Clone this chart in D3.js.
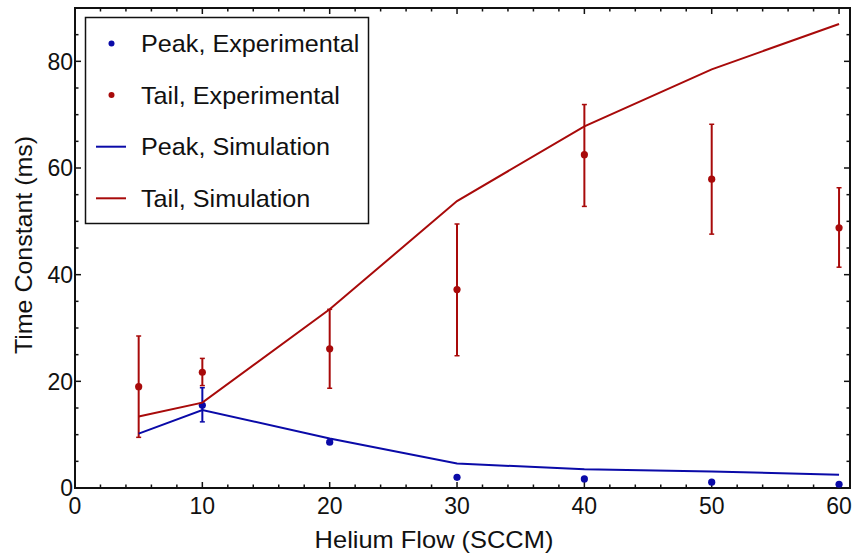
<!DOCTYPE html>
<html>
<head>
<meta charset="utf-8">
<script src="https://cdn.jsdelivr.net/npm/d3@7"></script>
<style>
  body { margin: 0; background: #fff; }
  svg text { font-family: "Liberation Sans", Arial, sans-serif; fill: #111; }
</style>
</head>
<body>
<div id="chart"></div>
<script>
// data
var flow = [5, 10, 20, 30, 40, 50, 60];

var peakExp = [null, 15.5, 8.6, 2.0, 1.7, 1.1, 0.7];
var peakExpLo = [null, 12.4, null, null, null, null, null];
var peakExpHi = [null, 18.8, null, null, null, null, null];

var tailExp = [19.0, 21.7, 26.1, 37.2, 62.5, 57.9, 48.8];
var tailExpLo = [9.5, 19.2, 18.7, 24.8, 52.8, 47.6, 41.4];
var tailExpHi = [28.5, 24.3, 33.5, 49.5, 71.9, 68.2, 56.3];

var peakSim = [10.2, 14.6, 9.3, 4.6, 3.5, 3.1, 2.5];
var tailSim = [13.4, 16.0, 33.5, 53.8, 67.8, 78.5, 87.0];

var xTicks = [0, 10, 20, 30, 40, 50, 60];
var yTicks = [0, 20, 40, 60, 80];

var blue = "#0a0aa8";
var red = "#a80a0a";

var svgWidth = 855, svgHeight = 555;
var margin = { top: 8, right: 5, bottom: 67, left: 75 };
var width = 850 - margin.left;
var height = 488 - margin.top;

var svg = d3.select("#chart").append("svg")
    .attr("width", svgWidth)
    .attr("height", svgHeight);

var chartGroup = svg.append("g")
    .attr("transform", `translate(${margin.left}, ${margin.top})`);

var xScale = d3.scaleLinear().domain([0, 60.86]).range([0, width]);
var yScale = d3.scaleLinear().domain([0, 90]).range([height, 0]);

// ticks on all four sides, pointing inward
var xMinor = d3.range(0, 61, 2);
var yMinor = d3.range(0, 91, 5);

function tickLines(g, vals, isX, side) {
    g.selectAll("line.t" + side)
        .data(vals)
        .enter()
        .append("line")
        .attr("stroke", "#111")
        .attr("stroke-width", 1.5)
        .each(function(d) {
            var major = isX ? d % 10 === 0 : d % 20 === 0;
            var len = major ? 6 : 3.5;
            var s = d3.select(this);
            if (isX) {
                var x = xScale(d);
                var y0 = side === "b" ? height : 0;
                var y1 = side === "b" ? height - len : len;
                s.attr("x1", x).attr("x2", x).attr("y1", y0).attr("y2", y1);
            } else {
                var y = yScale(d);
                var x0 = side === "l" ? 0 : width;
                var x1 = side === "l" ? len : width - len;
                s.attr("x1", x0).attr("x2", x1).attr("y1", y).attr("y2", y);
            }
        });
}

tickLines(chartGroup, xMinor, true, "b");
tickLines(chartGroup, xMinor, true, "t");
tickLines(chartGroup, yMinor, false, "l");
tickLines(chartGroup, yMinor, false, "r");

// frame
chartGroup.append("rect")
    .attr("x", 0).attr("y", 0)
    .attr("width", width).attr("height", height)
    .attr("fill", "none")
    .attr("stroke", "#111")
    .attr("stroke-width", 2);

// tick labels
chartGroup.selectAll("text.xlab")
    .data(xTicks)
    .enter()
    .append("text")
    .attr("x", d => xScale(d))
    .attr("y", height + 26)
    .attr("text-anchor", "middle")
    .style("font-size", "23px")
    .text(d => d);

chartGroup.selectAll("text.ylab")
    .data(yTicks)
    .enter()
    .append("text")
    .attr("x", -2)
    .attr("y", d => yScale(d))
    .attr("dy", "0.36em")
    .attr("text-anchor", "end")
    .style("font-size", "23px")
    .text(d => d);

// axis titles (the reference font runs a little wider than Liberation Sans)
svg.append("text")
    .attr("transform", "translate(434, 548) scale(1.06, 1)")
    .attr("text-anchor", "middle")
    .style("font-size", "24px")
    .text("Helium Flow (SCCM)");

svg.append("text")
    .attr("transform", "translate(32, 245) rotate(-90) scale(1.04, 1)")
    .attr("text-anchor", "middle")
    .style("font-size", "24px")
    .text("Time Constant (ms)");

// simulation lines
var line = d3.line()
    .x(d => xScale(d[0]))
    .y(d => yScale(d[1]));

function drawLine(vals, color) {
    chartGroup.append("path")
        .datum(flow.map((f, i) => [f, vals[i]]))
        .attr("d", line)
        .attr("fill", "none")
        .attr("stroke", color)
        .attr("stroke-width", 2);
}

// experimental points with error bars
function drawPoints(vals, lo, hi, color) {
    var pts = flow.map((f, i) => ({ x: f, y: vals[i], lo: lo[i], hi: hi[i] }))
        .filter(d => d.y !== null);
    var g = chartGroup.append("g");
    var bars = pts.filter(d => d.lo !== null);
    g.selectAll("line.err")
        .data(bars)
        .enter()
        .append("line")
        .attr("x1", d => xScale(d.x)).attr("x2", d => xScale(d.x))
        .attr("y1", d => yScale(d.lo)).attr("y2", d => yScale(d.hi))
        .attr("stroke", color)
        .attr("stroke-width", 2);
    ["lo", "hi"].forEach(k => {
        g.selectAll("line.cap" + k)
            .data(bars)
            .enter()
            .append("line")
            .attr("x1", d => xScale(d.x) - 2.5).attr("x2", d => xScale(d.x) + 2.5)
            .attr("y1", d => yScale(d[k])).attr("y2", d => yScale(d[k]))
            .attr("stroke", color)
            .attr("stroke-width", 1.5);
    });
    g.selectAll("circle")
        .data(pts)
        .enter()
        .append("circle")
        .attr("cx", d => xScale(d.x))
        .attr("cy", d => yScale(d.y))
        .attr("r", 3.6)
        .attr("fill", color);
}

drawPoints(peakExp, peakExpLo, peakExpHi, blue);
drawPoints(tailExp, tailExpLo, tailExpHi, red);
drawLine(peakSim, blue);
drawLine(tailSim, red);

// legend
var legend = svg.append("g");
legend.append("rect")
    .attr("x", 85.5).attr("y", 17.5)
    .attr("width", 283).attr("height", 206)
    .attr("fill", "#fff")
    .attr("stroke", "#111")
    .attr("stroke-width", 1.5);

var legendItems = [
    { label: "Peak, Experimental", color: blue, type: "dot" },
    { label: "Tail, Experimental", color: red, type: "dot" },
    { label: "Peak, Simulation", color: blue, type: "line" },
    { label: "Tail, Simulation", color: red, type: "line" }
];

legendItems.forEach((item, i) => {
    var cy = 43.5 + i * 51.6;
    if (item.type === "dot") {
        legend.append("circle")
            .attr("cx", 111.5).attr("cy", cy).attr("r", 3)
            .attr("fill", item.color);
    } else {
        legend.append("line")
            .attr("x1", 96).attr("x2", 126)
            .attr("y1", cy).attr("y2", cy)
            .attr("stroke", item.color)
            .attr("stroke-width", 2);
    }
    legend.append("text")
        .attr("transform", `translate(141, ${cy + 8.5}) scale(1.05, 1)`)
        .style("font-size", "24px")
        .text(item.label);
});
</script>
</body>
</html>
